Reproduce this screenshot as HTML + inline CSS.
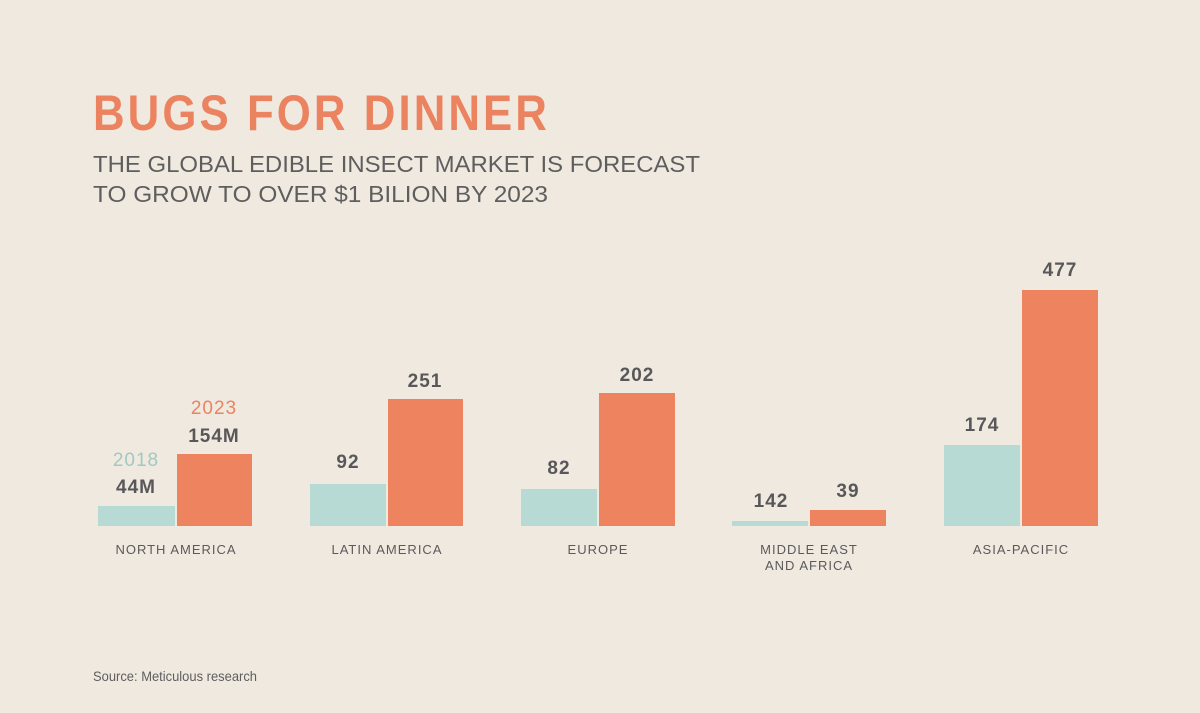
<!DOCTYPE html>
<html><head><style>
body{margin:0;background:#f0e9e0;}
svg{display:block}
text{font-family:"Liberation Sans",sans-serif;}
</style></head><body>
<svg width="1200" height="713" viewBox="0 0 1200 713">
<rect width="1200" height="713" fill="#f0e9e0"/>
<text x="93" y="130" font-size="50" font-weight="bold" fill="#ec8360" letter-spacing="3.5" textLength="457" lengthAdjust="spacingAndGlyphs">BUGS FOR DINNER</text>
<text x="93" y="172" font-size="23" fill="#5e5e5e" textLength="607" lengthAdjust="spacingAndGlyphs">THE GLOBAL EDIBLE INSECT MARKET IS FORECAST</text>
<text x="93" y="202" font-size="23" fill="#5e5e5e" textLength="455" lengthAdjust="spacingAndGlyphs">TO GROW TO OVER $1 BILION BY 2023</text>
<g fill="#b8dad4">
<rect x="98" y="506" width="77" height="20"/>
<rect x="310" y="484" width="76" height="42"/>
<rect x="521" y="489" width="76" height="37"/>
<rect x="732" y="521" width="76" height="5"/>
<rect x="944" y="445" width="76" height="81"/>
</g>
<g fill="#ed835f">
<rect x="177" y="454" width="75" height="72"/>
<rect x="388" y="399" width="75" height="127"/>
<rect x="599" y="393" width="76" height="133"/>
<rect x="810" y="510" width="76" height="16"/>
<rect x="1022" y="290" width="76" height="236"/>
</g>
<g font-size="19" font-weight="bold" fill="#58585a" text-anchor="middle" letter-spacing="1">
<text x="136" y="493">44M</text>
<text x="214" y="442">154M</text>
<text x="348" y="468">92</text>
<text x="425" y="387">251</text>
<text x="559" y="474">82</text>
<text x="637" y="381">202</text>
<text x="771" y="507">142</text>
<text x="848" y="497">39</text>
<text x="982" y="431">174</text>
<text x="1060" y="276">477</text>
</g>
<text x="136" y="466" font-size="19" fill="#9fc9c2" text-anchor="middle" letter-spacing="1">2018</text>
<text x="214" y="414" font-size="19" fill="#ec8360" text-anchor="middle" letter-spacing="1">2023</text>
<g font-size="13" fill="#5a5a5c" text-anchor="middle" letter-spacing="1">
<text x="176" y="554">NORTH AMERICA</text>
<text x="387" y="554">LATIN AMERICA</text>
<text x="598" y="554">EUROPE</text>
<text x="809" y="554">MIDDLE EAST</text>
<text x="809" y="570">AND AFRICA</text>
<text x="1021" y="554">ASIA-PACIFIC</text>
</g>
<text x="93" y="681" font-size="14" fill="#5e5e5e" textLength="164" lengthAdjust="spacingAndGlyphs">Source: Meticulous research</text>
</svg>
</body></html>
